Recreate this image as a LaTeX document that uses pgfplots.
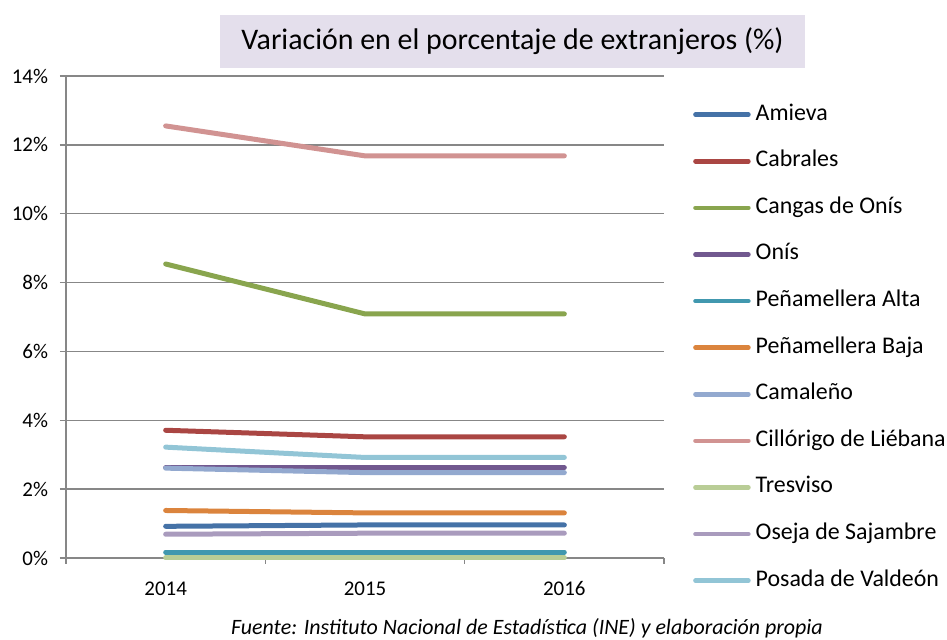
\documentclass[border=0pt]{standalone}
\usepackage{fontspec}
\setmainfont{Carlito}
\usepackage{pgfplots}
\pgfplotsset{compat=1.18}
\definecolor{titlebg}{HTML}{E4DFEC}
\definecolor{gridgray}{HTML}{878787}
\definecolor{cA}{HTML}{4572A7}
\definecolor{cB}{HTML}{AA4643}
\definecolor{cC}{HTML}{89A54E}
\definecolor{cD}{HTML}{71588F}
\definecolor{cE}{HTML}{4198AF}
\definecolor{cF}{HTML}{DB843D}
\definecolor{cG}{HTML}{93A9CF}
\definecolor{cH}{HTML}{D19392}
\definecolor{cI}{HTML}{B9CD96}
\definecolor{cJ}{HTML}{A99BBD}
\definecolor{cK}{HTML}{92C5D6}
\begin{document}
\begin{tikzpicture}
\path[use as bounding box] (0,0) rectangle (947bp,640bp);
\node[fill=titlebg, minimum width=585bp, minimum height=53bp, inner sep=0pt,
      font=\fontsize{30}{34}\selectfont] at (512.5bp,598.5bp)
      {Variación en el porcentaje de extranjeros (\%)};
\begin{axis}[
  at={(66bp,82bp)}, anchor=south west, scale only axis,
  width=598bp, height=482bp,
  xmin=-0.5, xmax=2.5, ymin=0, ymax=14,
  clip=false,
  xtick={-0.5,0.5,1.5,2.5}, xticklabels={},
  extra x ticks={0,1,2}, extra x tick labels={2014,2015,2016},
  extra x tick style={major tick length=0pt, grid=none},
  ytick={0,2,4,6,8,10,12,14},
  yticklabels={0\%,2\%,4\%,6\%,8\%,10\%,12\%,14\%},
  ymajorgrids, grid style={gridgray, line width=1.5bp},
  axis x line*=bottom, axis y line*=left,
  axis line style={gridgray, line width=1.5bp, -},
  tick align=outside, major tick length=6bp,
  tick style={gridgray, line width=1.5bp},
  xticklabel style={font=\fontsize{21}{25}\selectfont, text=black, yshift=-20bp},
  yticklabel style={font=\fontsize{21}{25}\selectfont, text=black, anchor=east, xshift=-8.5bp},
  legend style={draw=none, fill=none, at={(1.0485,0.942)}, anchor=north west,
     inner sep=0pt, row sep=25.6bp, column sep=5bp,
     font=\fontsize{24}{28}\selectfont,
     nodes={inner sep=0pt, text height=16bp, text depth=5bp}},
  legend cell align=left,
  legend image code/.code={\draw[#1, line width=4.5bp, line cap=round] (0bp,0bp) -- (53bp,0bp);},
  every axis plot/.append style={line width=5bp, line cap=round, line join=round, mark=none},
]
\addplot[cA] coordinates {(0,0.92) (1,0.96) (2,0.96)};
\addlegendentry{Amieva}
\addplot[cB] coordinates {(0,3.71) (1,3.52) (2,3.52)};
\addlegendentry{Cabrales}
\addplot[cC] coordinates {(0,8.54) (1,7.09) (2,7.09)};
\addlegendentry{Cangas de Onís}
\addplot[cD] coordinates {(0,2.62) (1,2.62) (2,2.62)};
\addlegendentry{Onís}
\addplot[cE] coordinates {(0,0.17) (1,0.17) (2,0.17)};
\addlegendentry{Peñamellera Alta}
\addplot[cF] coordinates {(0,1.38) (1,1.31) (2,1.31)};
\addlegendentry{Peñamellera Baja}
\addplot[cG] coordinates {(0,2.61) (1,2.48) (2,2.48)};
\addlegendentry{Camaleño}
\addplot[cH] coordinates {(0,12.55) (1,11.68) (2,11.68)};
\addlegendentry{Cillórigo de Liébana}
\addplot[cI] coordinates {(0,0.0) (1,0.0) (2,0.0)};
\addlegendentry{Tresviso}
\addplot[cJ] coordinates {(0,0.69) (1,0.72) (2,0.72)};
\addlegendentry{Oseja de Sajambre}
\addplot[cK] coordinates {(0,3.22) (1,2.92) (2,2.92)};
\addlegendentry{Posada de Valdeón}
\end{axis}
\node[font=\itshape\fontsize{22}{26}\selectfont] at (527bp,12bp)
  {Fuente: Instituto Nacional de Estadística (INE) y elaboración propia};
\end{tikzpicture}
\end{document}
